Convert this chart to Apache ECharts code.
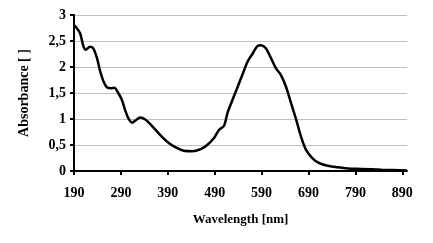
<!DOCTYPE html>
<html>
<head>
<meta charset="utf-8">
<script src="https://cdn.jsdelivr.net/npm/echarts@6/dist/echarts.min.js"></script>
<style>
  html, body { margin: 0; padding: 0; background: #fff; }
  #chart { width: 433px; height: 243px; }
</style>
</head>
<body>
<div id="chart"></div>
<script>
// wavelength [nm] and absorbance
var wavelength = [190, 194, 203, 210, 215, 224, 231, 239, 246, 253, 260, 269, 276, 285, 292, 299, 306, 314, 321, 331, 342, 356, 374, 392, 410, 424, 442, 460, 474, 489, 499, 510, 517, 528, 539, 549, 560, 571, 581, 589, 599, 610, 621, 631, 642, 653, 664, 674, 685, 699, 713, 731, 753, 774, 803, 846, 900];
var absorbance = [2.8, 2.77, 2.65, 2.4, 2.33, 2.39, 2.36, 2.17, 1.91, 1.72, 1.61, 1.59, 1.6, 1.49, 1.37, 1.17, 1.01, 0.93, 0.97, 1.03, 0.99, 0.87, 0.69, 0.54, 0.44, 0.39, 0.38, 0.42, 0.5, 0.64, 0.79, 0.87, 1.11, 1.37, 1.62, 1.85, 2.1, 2.26, 2.4, 2.42, 2.36, 2.17, 1.97, 1.85, 1.62, 1.3, 0.98, 0.66, 0.4, 0.24, 0.15, 0.1, 0.07, 0.05, 0.04, 0.025, 0.01];
var xTicks = [190, 290, 390, 490, 590, 690, 790, 890];

var chart = echarts.init(document.getElementById('chart'));
var font = 'Liberation Serif';

var points = wavelength.map(function (w, i) {
  return [w, absorbance[i]];
});

chart.setOption({
  animation: false,
  grid: { left: 74, right: 26, top: 15, bottom: 72 },
  xAxis: {
    type: 'value',
    min: 190,
    max: 900,
    name: 'Wavelength [nm]',
    nameLocation: 'middle',
    nameGap: 42,
    nameTextStyle: { fontFamily: font, fontWeight: 'bold', fontSize: 13, color: '#000' },
    axisLine: { lineStyle: { color: '#000', width: 2 } },
    axisTick: { show: true, length: 4, lineStyle: { color: '#000', width: 2 }, customValues: xTicks },
    axisLabel: { fontFamily: font, fontWeight: 'bold', fontSize: 14, color: '#000', margin: 15, customValues: xTicks },
    splitLine: { show: false }
  },
  yAxis: {
    type: 'value',
    min: 0,
    max: 3,
    interval: 0.5,
    name: 'Absorbance [ ]',
    nameLocation: 'middle',
    nameGap: 43,
    nameTextStyle: { fontFamily: font, fontWeight: 'bold', fontSize: 14, color: '#000' },
    axisLine: { show: true, lineStyle: { color: '#000', width: 2 } },
    axisTick: { show: true, length: 4, lineStyle: { color: '#000', width: 2 } },
    axisLabel: {
      fontFamily: font, fontWeight: 'bold', fontSize: 14, color: '#000', margin: 8,
      formatter: function (v) { return String(v).replace('.', ','); }
    },
    splitLine: { lineStyle: { color: '#bfbfbf', width: 1 } }
  },
  series: [{
    type: 'line',
    data: points,
    smooth: 0.3,
    symbol: 'none',
    lineStyle: { color: '#000', width: 2.5 }
  }]
});
</script>
</body>
</html>
